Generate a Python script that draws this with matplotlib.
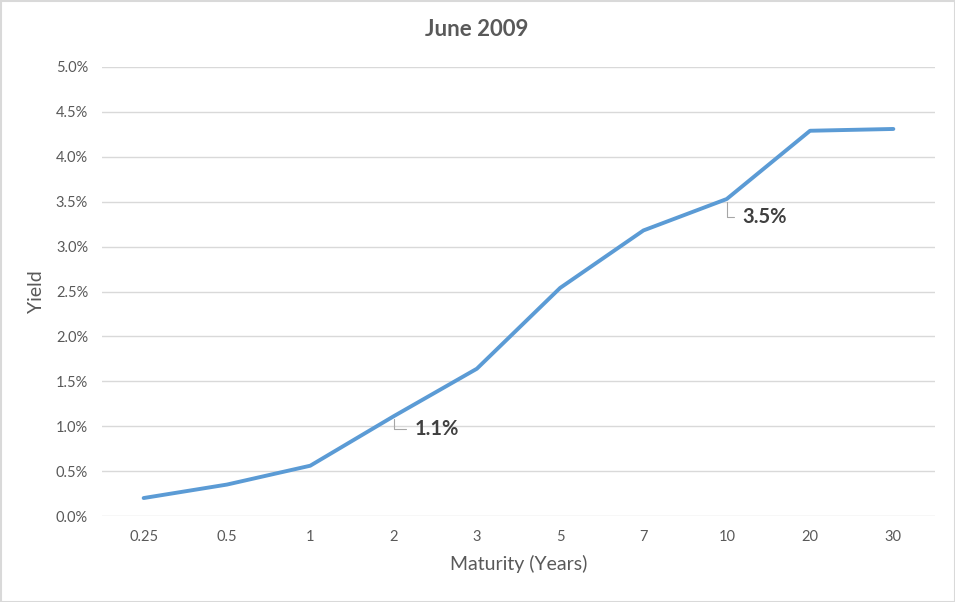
import matplotlib
matplotlib.use("Agg")
import matplotlib.pyplot as plt
from matplotlib.patches import Rectangle

plt.rcParams['font.family'] = ['Lato', 'DejaVu Sans']

maturities = ["0.25", "0.5", "1", "2", "3", "5", "7", "10", "20", "30"]
yields = [0.20, 0.35, 0.56, 1.11, 1.64, 2.54, 3.18, 3.53, 4.29, 4.31]
yticks = [0.0, 0.5, 1.0, 1.5, 2.0, 2.5, 3.0, 3.5, 4.0, 4.5, 5.0]
labeled = {3: "1.1%", 7: "3.5%"}
label_offsets_px = {3: (21, -13), 7: (16, -18)}

W, H = 955, 602
fig = plt.figure(figsize=(W/100, H/100), dpi=100)
ax = fig.add_axes([102/W, 1 - 516/H, (935-102)/W, (516-67)/H])

x = list(range(len(maturities)))
ax.plot(x, yields, color="#5B9BD5", lw=2.8, solid_capstyle="round", zorder=3)
ax.set_xlim(-0.5, len(maturities) - 0.5)
ax.set_ylim(0, 5.0)
ax.set_yticks(yticks)
ax.set_yticklabels([f"{v:.1f}%" for v in yticks])
ax.set_xticks(x)
ax.set_xticklabels(maturities)
ax.grid(axis="y", color="#D9D9D9", lw=1)
ax.set_axisbelow(True)
for s in ax.spines.values():
    s.set_visible(False)
ax.tick_params(length=0, colors="#595959", labelsize=10.5)
ax.tick_params(axis="y", pad=10)
ax.tick_params(axis="x", pad=10)

ax.set_xlabel("Maturity (Years)", fontsize=14, color="#595959", labelpad=8)
ax.set_ylabel("Yield", fontsize=14, color="#595959", labelpad=8)
fig.text(477/W, 1 - 30/H, "June 2009", fontsize=16, fontweight="bold", color="#595959",
         ha="center", va="center")

for i, txt in labeled.items():
    dx, dy = label_offsets_px[i]
    ax.annotate(txt, xy=(i, yields[i]), xytext=(dx*0.72, dy*0.72), textcoords="offset points",
                fontsize=14.5, fontweight="bold", color="#404040", va="center", ha="left",
                arrowprops=dict(arrowstyle="-", color="#A6A6A6", lw=0.8,
                                connectionstyle="angle,angleA=0,angleB=90,rad=0",
                                shrinkA=4, shrinkB=2))

fig.patches.append(Rectangle((0.5/W, 0.5/H), 1 - 1/W, 1 - 1/H, transform=fig.transFigure,
                             fill=False, edgecolor="#D9D9D9", lw=1.5))
fig.savefig("out.png", dpi=100)
